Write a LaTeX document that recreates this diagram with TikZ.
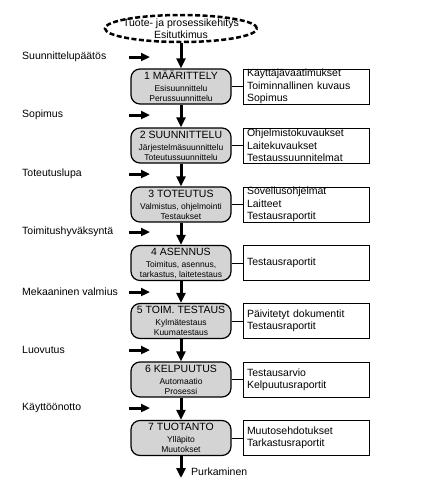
\documentclass[tikz,border=0pt]{standalone}
\usepackage{fontspec}
\setmainfont{Liberation Sans}
\usetikzlibrary{arrows.meta,shapes.geometric}
\begin{document}
\begin{tikzpicture}[x=1pt,y=-1pt,
  phase/.style={draw, line width=1.2pt, rounded corners=9pt, fill=black!17,
    minimum width=100pt, minimum height=35pt, inner sep=0pt, align=center,
    font=\fontsize{8.5}{10}\selectfont},
  outbox/.style={draw, line width=0.9pt, minimum width=126pt, minimum height=35pt,
    inner xsep=4pt, inner ysep=0pt, text width=118pt, align=left,
    font=\fontsize{10.5}{12.3}\selectfont},
  lbl/.style={anchor=west, inner sep=0pt, font=\fontsize{10.5}{12}\selectfont},
  varrow/.style={line width=3pt, -{Triangle[width=9pt,length=10pt]}},
  harrow/.style={line width=3pt, -{Triangle[width=8pt,length=9pt]}},
  link/.style={line width=0.9pt}]
\useasboundingbox (0,0) rectangle (424,483);
\fill[white] (0,0) rectangle (424,483);

\node[ellipse, draw, line width=2.5pt, dash pattern=on 5pt off 2.5pt,
  minimum width=152pt, minimum height=27pt, inner sep=0pt] (e) at (181,28.5) {};
\node[align=center, inner sep=0pt, font=\fontsize{10.5}{12}\selectfont] (et) at (e.center)
  {Tuote- ja prosessikehitys\\Esitutkimus};

\newcommand{\ttlf}[1]{{\fontsize{10.5}{12}\selectfont #1}\\[2pt]}

\node[phase] (p1) at (181,86.5) {\ttlf{1 MÄÄRITTELY}Esisuunnittelu\\Perussuunnittelu};
\node[phase] (p2) at (181,145.5) {\ttlf{2 SUUNNITTELU}Järjestelmäsuunnittelu\\Toteutussuunnittelu};
\node[phase] (p3) at (181,204.5) {\ttlf{3 TOTEUTUS}Valmistus, ohjelmointi\\Testaukset};
\node[phase] (p4) at (181,263) {\ttlf{4 ASENNUS}Toimitus, asennus,\\tarkastus, laitetestaus};
\node[phase] (p5) at (181,321) {\ttlf{5 TOIM. TESTAUS}Kylmätestaus\\Kuumatestaus};
\node[phase] (p6) at (181,379.5) {\ttlf{6 KELPUUTUS}Automaatio\\Prosessi};
\node[phase] (p7) at (181,438) {\ttlf{7 TUOTANTO}Ylläpito\\Muutokset};

\node[outbox] (o1) at (306,86.5) {Käyttäjävaatimukset\\Toiminnallinen kuvaus\\Sopimus};
\node[outbox] (o2) at (306,145.5) {Ohjelmistokuvaukset\\Laitekuvaukset\\Testaussuunnitelmat};
\node[outbox] (o3) at (306,204.5) {Sovellusohjelmat\\Laitteet\\Testausraportit};
\node[outbox] (o4) at (306,263) {Testausraportit};
\node[outbox] (o5) at (306,321) {Päivitetyt dokumentit\\Testausraportit};
\node[outbox] (o6) at (306,379.5) {Testausarvio\\Kelpuutusraportit};
\node[outbox] (o7) at (306,438) {Muutosehdotukset\\Tarkastusraportit};

\foreach \i in {1,...,7} {\draw[link] (p\i.east) -- (o\i.west);}

\draw[varrow] (e.south) -- (p1.north);
\draw[varrow] (p1.south) -- (p2.north);
\draw[varrow] (p2.south) -- (p3.north);
\draw[varrow] (p3.south) -- (p4.north);
\draw[varrow] (p4.south) -- (p5.north);
\draw[varrow] (p5.south) -- (p6.north);
\draw[varrow] (p6.south) -- (p7.north);
\coordinate (endp) at (181,478);
\draw[varrow] (p7.south) -- (endp);
\node[lbl] (pk) at (191,472) {Purkaminen};

\foreach \n/\y/\t in {1/57/Suunnittelupäätös, 2/115/Sopimus, 3/174/Toteutuslupa,
  4/232/Toimitushyväksyntä, 5/292/Mekaaninen valmius, 6/350/Luovutus, 7/408/Käyttöönotto} {
  \node[lbl] (l\n) at (22,\y) {\t};
  \coordinate (as\n) at (129,\y);
  \coordinate (ae\n) at (150,\y);
  \draw[harrow] (as\n) -- (ae\n);
}
\end{tikzpicture}
\end{document}
